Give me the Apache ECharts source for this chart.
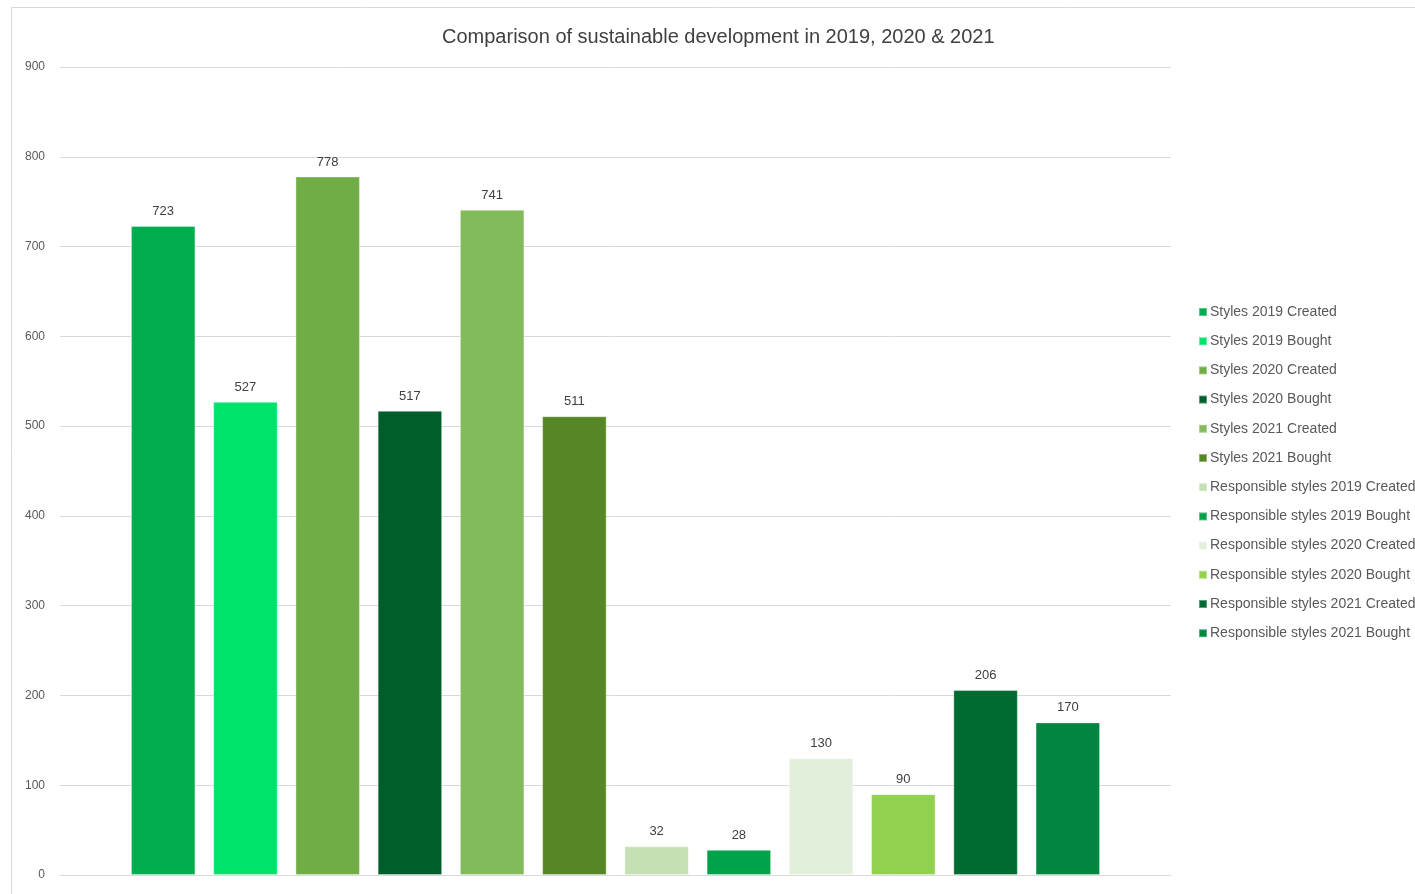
<!DOCTYPE html>
<html>
<head>
<meta charset="utf-8">
<script src="https://cdn.jsdelivr.net/npm/echarts@6/dist/echarts.min.js"></script>
<style>
  html, body { margin: 0; padding: 0; background: #fff; }
  #chart { width: 1415px; height: 894px; }
</style>
</head>
<body>
<div id="chart"></div>
<script>
// one category, every series is its own bar (Excel style)
var seriesNames = [
    'Styles 2019 Created',
    'Styles 2019 Bought',
    'Styles 2020 Created',
    'Styles 2020 Bought',
    'Styles 2021 Created',
    'Styles 2021 Bought',
    'Responsible styles 2019 Created',
    'Responsible styles 2019 Bought',
    'Responsible styles 2020 Created',
    'Responsible styles 2020 Bought',
    'Responsible styles 2021 Created',
    'Responsible styles 2021 Bought'
];
var seriesValues = [723, 527, 778, 517, 741, 511, 32, 28, 130, 90, 206, 170];
var seriesColors = [
    '#00AD4E', '#00E36B', '#70AD47', '#005E2B', '#82BA5C', '#558726',
    '#C5E0B3', '#00A24A', '#E2EFDA', '#92D050', '#006B31', '#00863F'
];
var yTicks = { min: 0, max: 900, interval: 100 };

var fontName = '"Liberation Sans", "DejaVu Sans", sans-serif';

var series = seriesNames.map(function (name, i) {
    return {
        name: name,
        type: 'bar',
        data: [seriesValues[i]],
        barWidth: 64.5,
        barGap: '27.5%',
        itemStyle: {
            color: seriesColors[i],
            borderColor: 'rgba(255,255,255,0.35)',
            borderWidth: 1
        },
        label: {
            show: true,
            position: 'top',
            distance: 8,
            color: '#404040',
            fontSize: 13,
            fontFamily: fontName
        }
    };
});

var option = {
    animation: false,
    backgroundColor: '#ffffff',
    graphic: [{
        type: 'rect',
        z: -10,
        silent: true,
        shape: { x: 11.5, y: 7.5, width: 1500, height: 1000 },
        style: { fill: 'none', stroke: '#d9d9d9', lineWidth: 1 }
    }],
    title: {
        text: 'Comparison of sustainable development in 2019, 2020 & 2021',
        left: 437,
        top: 22,
        textStyle: {
            fontSize: 20,
            fontWeight: 'normal',
            color: '#404040',
            fontFamily: fontName
        }
    },
    legend: {
        orient: 'vertical',
        left: 1193,
        top: 300,
        icon: 'rect',
        itemWidth: 8,
        itemHeight: 8,
        itemGap: 15.2,
        data: seriesNames,
        textStyle: {
            fontSize: 14,
            lineHeight: 14,
            color: '#595959',
            fontFamily: fontName,
            padding: [0, 0, 0, -2]
        }
    },
    grid: {
        left: 60,
        right: 244,
        top: 67,
        bottom: 19,
        containLabel: false
    },
    xAxis: {
        type: 'category',
        data: [''],
        axisLine: { show: true, lineStyle: { color: '#d9d9d9', width: 1 } },
        axisTick: { show: false },
        axisLabel: { show: false }
    },
    yAxis: {
        type: 'value',
        min: yTicks.min,
        max: yTicks.max,
        interval: yTicks.interval,
        axisLine: { show: false },
        axisTick: { show: false },
        splitLine: { lineStyle: { color: '#d9d9d9', width: 1 } },
        axisLabel: {
            margin: 15,
            color: '#595959',
            fontSize: 12,
            fontFamily: fontName
        }
    },
    series: series
};

var chart = echarts.init(document.getElementById('chart'));
chart.setOption(option);
</script>
</body>
</html>
